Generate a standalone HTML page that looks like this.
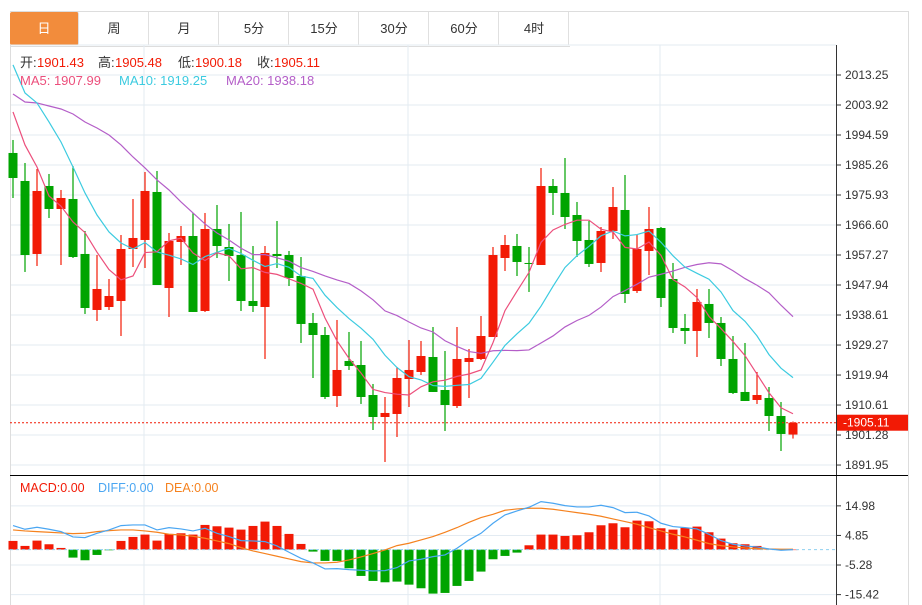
<!DOCTYPE html>
<html><head><meta charset="utf-8"><style>
body{margin:0;background:#fff;font-family:"Liberation Sans","Noto Sans CJK SC",sans-serif;}
#wrap{position:relative;width:922px;height:605px;overflow:hidden;}
.tab{position:absolute;top:12px;height:33px;width:69px;line-height:33px;text-align:center;font-size:13px;color:#333;border-right:1px solid #e0e0e0;box-sizing:border-box;}
</style></head><body>
<div id="wrap">
<div style="position:absolute;left:10px;top:11px;width:560px;height:34px;border-top:1px solid #ddd;border-bottom:1px solid #ddd;"></div>
<div class="tab" style="left:10px;background:#f28c3c;color:#fff;border-radius:2px;">日</div>
<div class="tab" style="left:80px;">周</div>
<div class="tab" style="left:150px;">月</div>
<div class="tab" style="left:220px;">5分</div>
<div class="tab" style="left:290px;">15分</div>
<div class="tab" style="left:360px;">30分</div>
<div class="tab" style="left:430px;">60分</div>
<div class="tab" style="left:500px;">4时</div>
<svg id="chart" width="922" height="605" style="position:absolute;left:0;top:0" font-family="Liberation Sans, Noto Sans CJK SC, sans-serif"></svg>
</div>
<script>
const opens=[1989.0,1980.29,1957.59,1978.73,1971.58,1974.69,1957.59,1940.17,1941.1,1942.97,1959.14,1961.94,1976.87,1947.01,1961.32,1963.18,1939.86,1965.36,1959.76,1957.27,1942.97,1941.1,1957.59,1957.27,1950.74,1936.13,1932.39,1913.42,1924.31,1923.06,1913.73,1906.89,1907.83,1918.71,1920.89,1925.55,1915.29,1910.31,1924.0,1924.93,1931.77,1956.34,1960.07,1954.79,1954.16,1978.73,1976.56,1969.71,1961.94,1954.79,1964.74,1971.27,1946.08,1958.52,1965.67,1949.81,1934.57,1933.64,1942.04,1936.13,1924.93,1914.67,1912.18,1912.8,1907.2,1901.43];
const highs=[1993.04,1985.89,1984.02,1982.47,1977.49,1984.95,1964.74,1957.27,1949.81,1963.49,1974.69,1983.09,1983.4,1964.12,1966.29,1970.34,1970.34,1972.82,1966.92,1970.65,1960.07,1960.07,1967.85,1958.52,1956.65,1939.24,1934.88,1937.06,1933.33,1930.53,1917.16,1913.11,1922.44,1930.84,1930.53,1934.88,1927.42,1934.88,1928.04,1938.3,1959.76,1963.49,1963.81,1959.76,1984.33,1980.91,1987.44,1973.76,1967.85,1965.98,1978.42,1982.15,1963.49,1972.2,1965.98,1954.79,1938.93,1946.7,1946.7,1937.99,1932.08,1929.91,1920.89,1916.22,1911.56,1905.48];
const lows=[1975.0,1951.99,1953.85,1968.78,1954.16,1956.34,1938.93,1936.75,1940.17,1932.08,1953.54,1953.23,1947.94,1937.99,1954.16,1939.55,1939.55,1956.34,1949.19,1939.86,1939.55,1924.93,1953.23,1947.63,1929.91,1919.02,1912.49,1910.0,1921.51,1910.94,1902.85,1892.9,1900.67,1910.0,1919.95,1914.67,1902.54,1909.69,1912.8,1924.62,1931.77,1952.3,1950.74,1945.77,1954.16,1969.71,1965.36,1956.65,1953.54,1951.99,1962.25,1942.35,1945.46,1951.05,1941.1,1933.02,1929.6,1925.55,1931.46,1922.75,1914.05,1911.87,1910.94,1902.54,1896.32,1900.18];
const closes=[1981.22,1957.27,1977.18,1971.58,1975.0,1956.65,1940.79,1946.7,1944.52,1959.14,1962.56,1977.18,1947.94,1961.63,1963.18,1939.55,1965.36,1960.07,1956.96,1942.97,1941.41,1957.9,1956.96,1950.12,1935.82,1932.39,1913.11,1921.51,1922.75,1913.11,1906.89,1908.14,1919.02,1921.51,1925.86,1914.67,1910.62,1924.93,1925.24,1932.08,1957.27,1960.38,1955.1,1954.48,1978.73,1976.56,1969.09,1961.63,1954.48,1964.74,1972.2,1945.15,1959.14,1965.36,1943.9,1934.57,1933.64,1942.66,1936.13,1924.93,1914.36,1911.87,1913.73,1907.2,1901.61,1905.11];
const ma5Early=[2001.75,1991.49,1984.64,1975.62];
const ma10Early=[2016.4,2007.66,2004.55,1998.64,1992.42,1984.64,1976.56,1969.71,1964.43];
const ma20Early=[2007.35,2004.86,2004.55,2003.61,2002.68,2001.13,1998.64,1996.77,1994.59,1991.49,1987.75,1984.33,1980.6,1977.49,1973.76,1970.34,1966.92,1964.12,1961.94];
const macdHist=[2.97,1.26,3.08,1.83,0.57,-2.74,-3.65,-1.83,-0.23,2.97,4.34,5.14,3.08,5.37,5.59,5.14,8.45,7.99,7.53,6.85,8.1,9.59,8.1,5.37,1.94,-0.68,-3.88,-3.88,-6.39,-9.02,-10.73,-11.19,-10.96,-12.0,-13.24,-15.07,-14.84,-12.44,-10.73,-7.53,-3.31,-2.17,-1.03,1.48,5.14,5.14,4.68,4.91,5.94,8.33,9.02,7.65,9.93,9.7,7.31,6.85,7.42,7.88,5.94,3.77,2.17,1.83,1.26,0.23,-0.1,0];
const diffVals=[8.22,6.96,7.65,6.96,6.16,4.34,4.11,5.59,6.74,8.22,8.45,8.45,6.74,7.53,7.08,6.39,7.31,5.59,4.45,3.08,2.97,2.74,1.26,-0.91,-2.97,-4.57,-6.62,-6.51,-6.85,-7.08,-7.31,-7.19,-6.16,-3.88,-3.31,-2.4,-1.83,0.46,3.31,5.59,9.02,11.87,13.24,14.5,16.44,15.87,15.07,14.61,14.61,15.18,14.38,12.67,12.79,11.53,9.02,7.88,7.53,7.08,5.25,3.08,1.83,1.26,0.91,0.23,-0.23,0];
const deaVals=[6.74,6.39,6.16,5.94,5.71,5.48,5.59,6.16,6.51,6.74,6.74,6.39,5.94,5.25,5.02,4.57,3.88,2.97,2.05,0.68,-0.46,-1.37,-2.28,-3.2,-4.11,-4.57,-4.57,-4.34,-3.54,-2.51,-1.37,-0.11,1.37,2.17,3.31,4.45,5.94,7.53,9.36,10.96,12.1,13.47,13.93,14.16,14.16,13.81,13.24,12.67,12.1,11.42,10.5,9.59,8.68,7.53,6.39,5.25,4.34,3.2,2.05,1.37,0.91,0.57,0.34,0.23,0.11,0.11];
const priceTicks=["2013.25","2003.92","1994.59","1985.26","1975.93","1966.60","1957.27","1947.94","1938.61","1929.27","1919.94","1910.61","1901.28","1891.95"];
const macdTicks=["14.98","4.85","-5.28","-15.42"];
const lastPrice=1905.11;

const NS="http://www.w3.org/2000/svg";
const svg=document.getElementById('chart');
function el(tag,attrs,parent){const e=document.createElementNS(NS,tag);for(const k in attrs)e.setAttribute(k,attrs[k]);(parent||svg).appendChild(e);return e;}
const xOf=i=>13+12*i;
const yP=p=>75+(2013.25-p)*30/9.33;
const yM=v=>549.6-v*2.92;
const RED="#f21a05",GREEN="#00a400";

let g=el('g',{});
priceTicks.forEach(t=>{const y=yP(parseFloat(t));el('line',{x1:10,x2:836,y1:y,y2:y,stroke:'#e3ebf2','stroke-width':1},g);});
el('line',{x1:10,x2:836,y1:45,y2:45,stroke:'#e3ebf2'},g);
macdTicks.forEach(t=>{const y=yM(parseFloat(t));el('line',{x1:10,x2:836,y1:y,y2:y,stroke:'#e3ebf2'},g);});
[144,408,660].forEach(x=>el('line',{x1:x,x2:x,y1:45,y2:605,stroke:'#e3ebf2'},g));
el('line',{x1:10.5,x2:10.5,y1:45,y2:605,stroke:'#ddd'},g);
el('line',{x1:836.5,x2:836.5,y1:45,y2:605,stroke:'#333'},g);
el('line',{x1:908.5,x2:908.5,y1:11,y2:605,stroke:'#ddd'},g);
el('line',{x1:570,x2:908,y1:11.5,y2:11.5,stroke:'#ddd'},g);
el('line',{x1:10,x2:908,y1:475.5,y2:475.5,stroke:'#000'},g);

let ax=el('g',{});
priceTicks.forEach(t=>{const y=yP(parseFloat(t));el('line',{x1:836,x2:841,y1:y,y2:y,stroke:'#333'},ax);const tx=el('text',{x:845,y:y+4,'font-size':12,fill:'#333'},ax);tx.textContent=t;});
let ax2=el('g',{});
macdTicks.forEach(t=>{const y=yM(parseFloat(t));el('line',{x1:836,x2:841,y1:y,y2:y,stroke:'#333'},ax2);const tx=el('text',{x:845,y:y+4,'font-size':12,fill:'#333'},ax2);tx.textContent=t;});

let cg=el('g',{});
closes.forEach((c,i)=>{
  const o=opens[i],up=c>=o,col=up?RED:GREEN,x=xOf(i);
  const ln=el('line',{x1:x,x2:x,y1:yP(highs[i]),y2:yP(lows[i]),stroke:col,'stroke-width':1.2},cg);
  
  const top=yP(Math.max(o,c)),bot=yP(Math.min(o,c));
  const r=el('rect',{x:x-4.5,y:top,width:9,height:Math.max(1,bot-top),fill:col},cg);
  
  
});

function ma(n,early){return closes.map((c,i)=>{if(i<n-1)return early[i];let s=0;for(let k=i-n+1;k<=i;k++)s+=closes[k];return s/n;});}
function line(vals,yf,col,name){const p=el('polyline',{points:vals.map((v,i)=>xOf(i)+','+yf(v)).join(' '),fill:'none',stroke:col,'stroke-width':1.2});}
line(ma(20,ma20Early),yP,'#b45ec8','ma20-line');
line(ma(10,ma10Early),yP,'#3ccbe0','ma10-line');
line(ma(5,ma5Early),yP,'#ec4f7c','ma5-line');

let lp=el('line',{x1:10,x2:836,y1:yP(lastPrice),y2:yP(lastPrice),stroke:'#f21a05','stroke-dasharray':'2,2'});

let lb=el('rect',{x:837,y:yP(lastPrice)-8,width:71,height:16,fill:'#f21a05'});

let lt=el('text',{x:843,y:yP(lastPrice)+4,'font-size':12,fill:'#fff'});lt.textContent='-1905.11';

let mg=el('g',{});
macdHist.forEach((v,i)=>{const y0=yM(0),y1=yM(v);const r=el('rect',{x:xOf(i)-4.5,y:Math.min(y0,y1),width:9,height:Math.max(0.5,Math.abs(y1-y0)),fill:v>=0?RED:GREEN},mg);});
let zl=el('line',{x1:10,x2:836,y1:yM(0),y2:yM(0),stroke:'#8fd0f0','stroke-dasharray':'3,3'});
line(deaVals,yM,'#f5821f','dea-line');
line(diffVals,yM,'#4aa6f2','diff-line');

function txt(x,y,s,col,name,fs){const t=el('text',{x:x,y:y,'font-size':fs||13,fill:col});t.textContent=s;if(name){}return t;}
txt(20,67,'开:','#333');txt(37,67,'1901.43','#f21a05','open-value');
txt(98,67,'高:','#333');txt(115,67,'1905.48','#f21a05','high-value');
txt(178,67,'低:','#333');txt(195,67,'1900.18','#f21a05','low-value');
txt(257,67,'收:','#333');txt(274,67,'1905.11','#f21a05','close-value');
txt(20,85,'MA5: 1907.99','#ec4f7c','ma5-legend');
txt(119,85,'MA10: 1919.25','#3ccbe0','ma10-legend');
txt(226,85,'MA20: 1938.18','#b45ec8','ma20-legend');
txt(20,492,'MACD:0.00','#f21a05','macd-legend',12.5);
txt(98,492,'DIFF:0.00','#4aa6f2','diff-legend',12.5);
txt(165,492,'DEA:0.00','#f5821f','dea-legend',12.5);
</script>
</body></html>
